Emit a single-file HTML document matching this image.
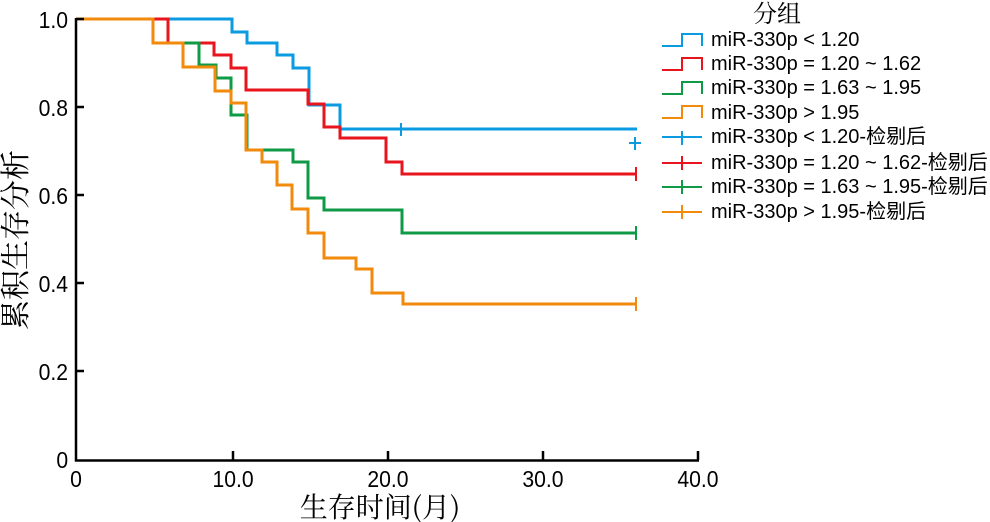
<!DOCTYPE html>
<html><head><meta charset="utf-8"><style>body{margin:0;background:#fff}svg{display:block}</style></head><body>
<svg width="990" height="522" viewBox="0 0 990 522" xmlns="http://www.w3.org/2000/svg" font-family="Liberation Sans, Noto Sans CJK SC, sans-serif">
<g fill="none" stroke-width="3">
<polyline stroke="#0a9be0" points="76,19 232,19 232,32 247,32 247,43 277,43 277,55 293,55 293,68 309,68 309,105 340,105 340,129 637,129"/>
<polyline stroke="#e8141e" points="76,19 168,19 168,43 214,43 214,55 231,55 231,68 246,68 246,90 308,90 308,104 324,104 324,127 340,127 340,138 386,138 386,162 402,162 402,174 637,174"/>
<polyline stroke="#0f9a45" points="76,19 153,19 153,43 199,43 199,65 216,65 216,78 231,78 231,115 247,115 247,150 293,150 293,162 308,162 308,198 324,198 324,210 402,210 402,233 637,233"/>
<polyline stroke="#f28a0c" points="76,19 153,19 153,43 183,43 183,67 215,67 215,91 231,91 231,103 246,103 246,150 262,150 262,162 277,162 277,185 292,185 292,209 308,209 308,233 324,233 324,258 356,258 356,269 372,269 372,293 403,293 403,304 637,304"/>
</g>
<g stroke-width="2" fill="none">
<path stroke="#0a9be0" d="M401,123v13M635,137v13M629,143h12"/>
<path stroke="#e8141e" d="M636,167v14"/>
<path stroke="#0f9a45" d="M636,226v14"/>
<path stroke="#f28a0c" d="M636,297v14"/>
</g>
<g stroke="#000" stroke-width="2.5" fill="none">
<path d="M76,18V460.5H699"/>
<path d="M76,19h8M76,107h8M76,195h8M76,283h8M76,371h8M233,460v-9M388,460v-9M543,460v-9M698,460v-9"/>
</g>
<g font-size="23" fill="#000" text-anchor="end" transform="scale(0.92,1)">
<text x="74" y="28">1.0</text><text x="74" y="116">0.8</text><text x="74" y="204">0.6</text><text x="74" y="292">0.4</text><text x="74" y="380">0.2</text><text x="74" y="468">0</text>
</g>
<g font-size="23" fill="#000" text-anchor="middle" transform="scale(0.92,1)">
<text x="82.6" y="487">0</text><text x="253.3" y="487">10.0</text><text x="421.7" y="487">20.0</text><text x="590.2" y="487">30.0</text><text x="758.7" y="487">40.0</text>
</g>
<text x="380" y="517" font-size="28" text-anchor="middle" font-family="Noto Serif CJK SC, serif">生存时间(月)</text>
<text transform="translate(26,240) rotate(-90)" font-size="30" text-anchor="middle" font-family="Noto Serif CJK SC, serif">累积生存分析</text>
<text x="777" y="22" font-size="24" text-anchor="middle" font-family="Noto Serif CJK SC, serif">分组</text>
<g fill="none" stroke-width="2">
<path stroke="#0a9be0" d="M662,46h20v-12h20v12"/>
<path stroke="#e8141e" d="M662,70h20v-12h20v12"/>
<path stroke="#0f9a45" d="M662,94h20v-12h20v12"/>
<path stroke="#f28a0c" d="M662,118h20v-12h20v12"/>
<path stroke="#0a9be0" d="M662,137h40M682,131v14"/>
<path stroke="#e8141e" d="M662,163h40M682,156v14"/>
<path stroke="#0f9a45" d="M662,187h40M682,180v14"/>
<path stroke="#f28a0c" d="M662,212h40M682,205v14"/>
</g>
<g font-size="20" fill="#000">
<text x="711" y="46">miR-330p &lt; 1.20</text>
<text x="711" y="70">miR-330p = 1.20 ~ 1.62</text>
<text x="711" y="94">miR-330p = 1.63 ~ 1.95</text>
<text x="711" y="119">miR-330p &gt; 1.95</text>
<text x="711" y="143">miR-330p &lt; 1.20-检剔后</text>
<text x="711" y="169">miR-330p = 1.20 ~ 1.62-检剔后</text>
<text x="711" y="193">miR-330p = 1.63 ~ 1.95-检剔后</text>
<text x="711" y="218">miR-330p &gt; 1.95-检剔后</text>
</g>
</svg>
</body></html>
